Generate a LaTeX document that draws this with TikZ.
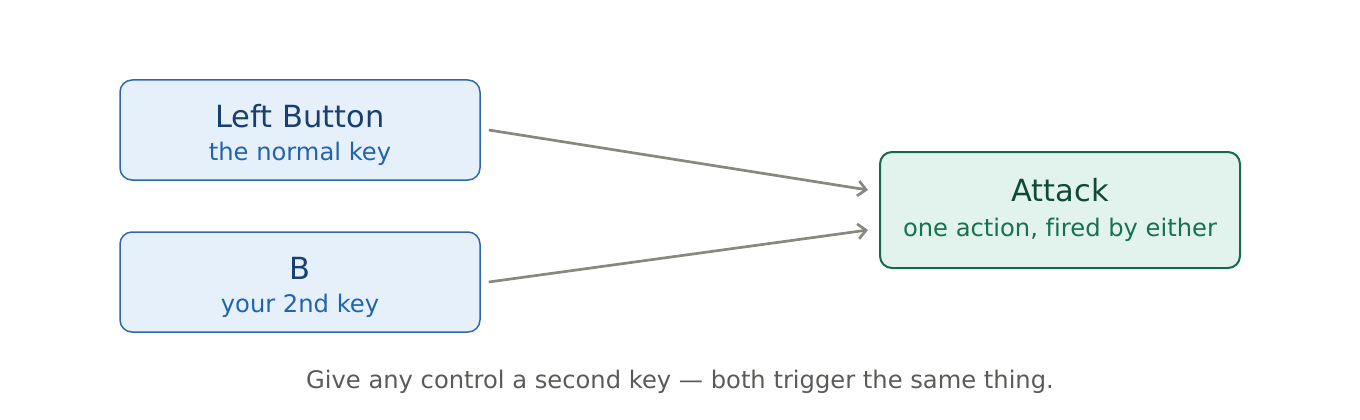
\documentclass[tikz,border=0pt]{standalone}
\usepackage{fontspec}
\setmainfont{DejaVu Sans}[Ligatures = NoCommon]
\usetikzlibrary{arrows.meta}
\usetikzlibrary{positioning}

\definecolor{keyline}{HTML}{2F68AA}
\definecolor{keyfill}{HTML}{E6F0FB}
\definecolor{keytitle}{HTML}{17406F}
\definecolor{keysub}{HTML}{2263AE}
\definecolor{actline}{HTML}{15694D}
\definecolor{actfill}{HTML}{E1F3EC}
\definecolor{acttitle}{HTML}{0F4A35}
\definecolor{actsub}{HTML}{177050}
\definecolor{linkgray}{HTML}{88887F}
\definecolor{notegray}{HTML}{5C5A57}

\begin{document}
\begin{tikzpicture}[x = 1pt, y = -1pt,
	keybox/.style = {draw = keyline, fill = keyfill, line width = 1.5pt, rounded corners = 12pt, minimum width = 360pt, minimum height = 100pt, inner sep = 0pt},
	actbox/.style = {draw = actline, fill = actfill, line width = 2pt, rounded corners = 12pt, minimum width = 360pt, minimum height = 116pt, inner sep = 0pt},
	title/.style = {font = \fontsize{30.5}{36}\selectfont, inner sep = 0pt},
	sub/.style = {font = \fontsize{24.2}{29}\selectfont, inner sep = 0pt},
	link/.style = {draw = linkgray, line width = 2.7pt, -{Straight Barb[length = 8pt, width = 15pt, line width = 2.7pt]}}]
							\useasboundingbox (0, 0) rectangle (1360, 420);

							\node[keybox](lb) at (300, 130){};
							\node[keybox](bk) at (300, 282){};
							\node[actbox](atk) at (1060, 210){};

							\node[title, text = keytitle](lbt) at (300, 116){Left Button};
							\node[sub, text = keysub](lbs) at (300, 154){the normal key};
							\node[title, text = keytitle](bkt) at (300, 268){B};
							\node[sub, text = keysub](bks) at (300, 306){your 2nd key};
							\node[title, text = acttitle](atkt) at (1060, 190){Attack};
							\node[sub, text = actsub](atks) at (1060, 230){one action, fired by either};

							\draw[link] ([xshift = 8pt]lb.east)--([xshift = -11pt, yshift = 20pt]atk.west);
							\draw[link] ([xshift = 8pt]bk.east)--([xshift = -11pt, yshift = -20pt]atk.west);

							\node[sub, text = notegray](note) at (680, 382){Give any control a second key — both trigger the same thing.};
						\end{tikzpicture}
\end{document}
